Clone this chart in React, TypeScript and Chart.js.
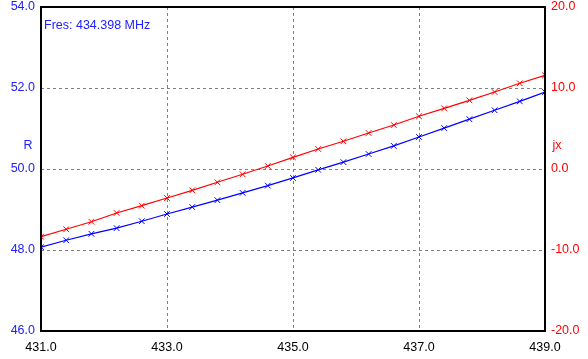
import React, { useEffect, useRef } from "react";
import { Chart, registerables } from "chart.js";

Chart.register(...registerables);

const freqs = [431.0, 431.4, 431.8, 432.2, 432.6, 433.0, 433.4, 433.8, 434.2, 434.6, 435.0, 435.4, 435.8, 436.2, 436.6, 437.0, 437.4, 437.8, 438.2, 438.6, 439.0];
const rValues = [48.07, 48.24, 48.40, 48.54, 48.71, 48.89, 49.06, 49.23, 49.41, 49.59, 49.78, 49.98, 50.17, 50.37, 50.57, 50.79, 51.01, 51.23, 51.45, 51.67, 51.90];
const jxValues = [-8.36, -7.44, -6.51, -5.43, -4.53, -3.58, -2.63, -1.64, -0.65, 0.37, 1.44, 2.47, 3.42, 4.44, 5.43, 6.51, 7.49, 8.48, 9.51, 10.58, 11.57];
const fresLabel = "Fres: 434.398 MHz";
const leftTitle = "R";
const rightTitle = "jx";

const FONT = "'Liberation Sans', Arial, sans-serif";

export default function App() {
  const ref = useRef<HTMLCanvasElement | null>(null);
  useEffect(() => {
    if (!ref.current) return;
    const overlay = {
      id: "overlay",
      afterDraw(chart: any) {
        const { ctx, chartArea } = chart;
        ctx.save();
        ctx.strokeStyle = "#000";
        ctx.lineWidth = 2;
        ctx.setLineDash([]);
        ctx.strokeRect(chartArea.left, chartArea.top, chartArea.right - chartArea.left, chartArea.bottom - chartArea.top);
        ctx.font = `12.5px ${FONT}`;
        ctx.textBaseline = "middle";
        ctx.fillStyle = "#2020ff";
        ctx.textAlign = "left";
        ctx.fillText(fresLabel, chartArea.left + 3, chartArea.top + 19);
        const yMid = chart.scales.y.getPixelForValue(50.6);
        ctx.textAlign = "center";
        ctx.fillText(leftTitle, 28, yMid + 1);
        ctx.fillStyle = "#ff0000";
        ctx.fillText(rightTitle, 557, yMid + 1);
        ctx.restore();
      },
    };
    const gridColor = (c: any) => {
      const s = c.scale;
      if (c.tick && (c.tick.value === s.min || c.tick.value === s.max)) return "rgba(0,0,0,0)";
      return "#808080";
    };
    const fitY = (w: number) => (s: any) => {
      s.width = w;
      s.paddingTop = 0;
      s.paddingBottom = 0;
    };
    const chart = new Chart(ref.current, {
      type: "line",
      data: {
        labels: freqs,
        datasets: [
          {
            label: "R",
            data: freqs.map((f, i) => ({ x: f, y: rValues[i] })),
            borderColor: "#0000ff",
            backgroundColor: "#0000ff",
            borderWidth: 1.2,
            pointStyle: "crossRot",
            pointRadius: 4,
            pointBorderWidth: 1,
            yAxisID: "y",
            tension: 0,
          },
          {
            label: "jx",
            data: freqs.map((f, i) => ({ x: f, y: jxValues[i] })),
            borderColor: "#ff0000",
            backgroundColor: "#ff0000",
            borderWidth: 1.2,
            pointStyle: "crossRot",
            pointRadius: 4,
            pointBorderWidth: 1,
            yAxisID: "y2",
            tension: 0,
          },
        ],
      },
      options: {
        animation: false,
        responsive: false,
        maintainAspectRatio: false,
        layout: { padding: { top: 7, left: 0, right: 0, bottom: 0 } },
        plugins: { legend: { display: false }, tooltip: { enabled: false } },
        scales: {
          x: {
            type: "linear",
            min: 431,
            max: 439,
            afterFit: (s: any) => { s.height = 28; s.paddingLeft = 0; s.paddingRight = 0; },
            ticks: {
              stepSize: 2,
              color: "#000",
              padding: 9,
              font: { family: FONT, size: 12.5 },
              callback: (v: any) => Number(v).toFixed(1),
              maxRotation: 0,
            },
            grid: { color: gridColor, drawTicks: false, lineWidth: 1 },
            border: { display: false, dash: [3, 3] },
          },
          y: {
            type: "linear",
            position: "left",
            min: 46,
            max: 54,
            afterFit: fitY(41),
            ticks: {
              stepSize: 2,
              color: "#2020ff",
              padding: 6,
              font: { family: FONT, size: 12.5 },
              callback: (v: any) => Number(v).toFixed(1),
            },
            grid: { color: gridColor, drawTicks: false, lineWidth: 1 },
            border: { display: false, dash: [3, 3] },
          },
          y2: {
            type: "linear",
            position: "right",
            min: -20,
            max: 20,
            afterFit: fitY(43),
            ticks: {
              stepSize: 10,
              color: "#ff0000",
              padding: 6,
              font: { family: FONT, size: 12.5 },
              callback: (v: any) => Number(v).toFixed(1),
            },
            grid: { display: false, drawTicks: false },
            border: { display: false },
          },
        },
      },
      plugins: [overlay],
    } as any);
    return () => chart.destroy();
  }, []);
  return (
    <div style={{ position: "fixed", left: 0, top: 0, width: 588, height: 359, background: "#fff" }}>
      <canvas ref={ref} width={588} height={359} style={{ width: 588, height: 359 }} />
    </div>
  );
}
